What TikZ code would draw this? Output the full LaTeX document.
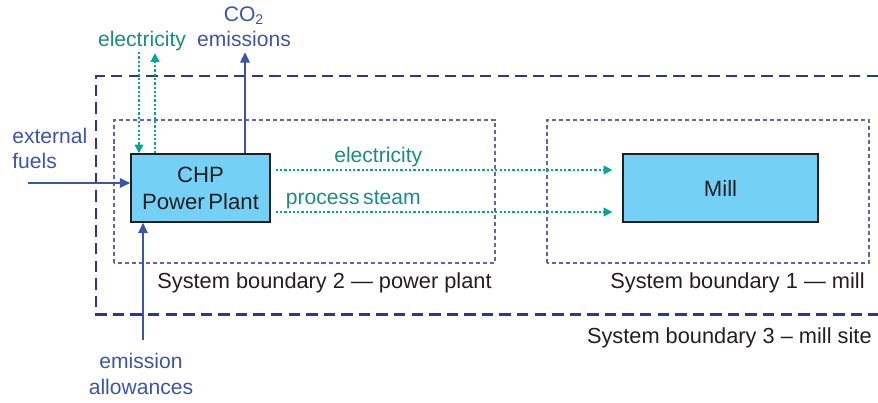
\documentclass[tikz,border=0pt]{standalone}
\usepackage{fontspec}
\setmainfont{Liberation Sans}
\usetikzlibrary{arrows.meta}
\definecolor{plantblue}{RGB}{116,208,245}
\definecolor{navy}{RGB}{45,55,145}
\definecolor{arrblue}{RGB}{60,85,170}
\definecolor{dashblue}{RGB}{95,100,175}
\definecolor{flowteal}{RGB}{0,165,155}
\definecolor{flowtext}{RGB}{25,140,132}
\definecolor{inkgray}{RGB}{35,31,32}
\begin{document}
\begin{tikzpicture}[font=\fontsize{12}{14.4}\selectfont,
  box/.style={draw=inkgray, fill=plantblue, line width=0.7pt, minimum width=#1,
              minimum height=1.36cm, align=center, text=inkgray,
              font=\fontsize{12.6}{14.4}\selectfont},
  bound/.style={draw=dashblue, line width=0.7pt, dash pattern=on 2.3pt off 1.7pt},
  outer/.style={draw=navy, line width=1.7pt, dash pattern=on 6.5pt off 3.5pt},
  arr/.style={-{Triangle[length=6pt,width=5.2pt]}, arrblue, line width=1.6pt},
  flow/.style={-{Triangle[length=5pt,width=4.8pt]}, flowteal, line width=1.5pt,
               dash pattern=on 1.3pt off 1.15pt},
  lbl/.style={text=inkgray, inner sep=0pt, anchor=east,
              font=\fontsize{12.4}{14.4}\selectfont}
]
  \useasboundingbox (0,0) rectangle (17.56,8.04);
  % systemgrenzen
  \draw[outer] (17.56,6.52) -| (1.92,1.76) -- (17.56,1.76);
  \draw[bound] (2.28,2.78) rectangle (9.9,5.64);
  \draw[bound] (10.94,2.78) rectangle (17.38,5.64);
  \node[lbl] (sb2) at (9.84,2.38)  {System boundary 2 — power plant};
  \node[lbl] (sb1) at (17.3,2.38)  {System boundary 1 — mill};
  \node[lbl] (sb3) at (17.44,1.28) {System boundary 3 – mill site};

  \node[box=2.78cm] (chp)  at (4.01,4.28)  {CHP\\[1pt]Power\,Plant};
  \node[box=3.9cm]  (mill) at (14.41,4.28) {Mill};

  \coordinate (elrow)    at (0,4.64);
  \coordinate (steamrow) at (0,3.8);
  \draw[flow, shorten <=0.1cm, shorten >=0.2cm] (chp.east |- elrow) -- (mill.west |- elrow)
        node[pos=0.306, above, inner sep=1pt, text=flowtext] (eltxt) {electricity};
  \draw[flow, shorten <=0.1cm, shorten >=0.2cm] (chp.east |- steamrow) -- (mill.west |- steamrow)
        node[pos=0.235, above, inner sep=1pt, text=flowtext] (steamtxt) {process\,steam};

  % ein- und ausgaenge
  \node[text=flowtext] (gridtxt) at (2.84,7.22) {electricity};
  \node[text=arrblue, align=center] (co2txt) at (4.88,7.5) {CO\textsubscript{2}\\emissions};
  \node[text=arrblue, align=left, inner sep=0pt, anchor=west] (fueltxt) at (0.24,5.07)
        {external\\fuels};
  \node[text=arrblue, align=center] (allowtxt) at (2.82,0.56) {emission\\allowances};

  \coordinate (elin)  at (2.78,7.0);
  \coordinate (elout) at (3.1,6.98);
  \coordinate (co2)   at (4.9,7.0);
  \coordinate (fuel)  at (0.56,4.38);
  \coordinate (allow) at (2.86,1.24);
  \draw[flow] (elin) -- (elin |- chp.north);
  \draw[flow] (elout |- chp.north) -- (elout);
  \draw[arr]  (co2 |- chp.north) -- (co2);
  \draw[arr]  (fuel) -- (fuel -| chp.west);
  \draw[arr]  (allow) -- (allow |- chp.south);
\end{tikzpicture}
\end{document}
